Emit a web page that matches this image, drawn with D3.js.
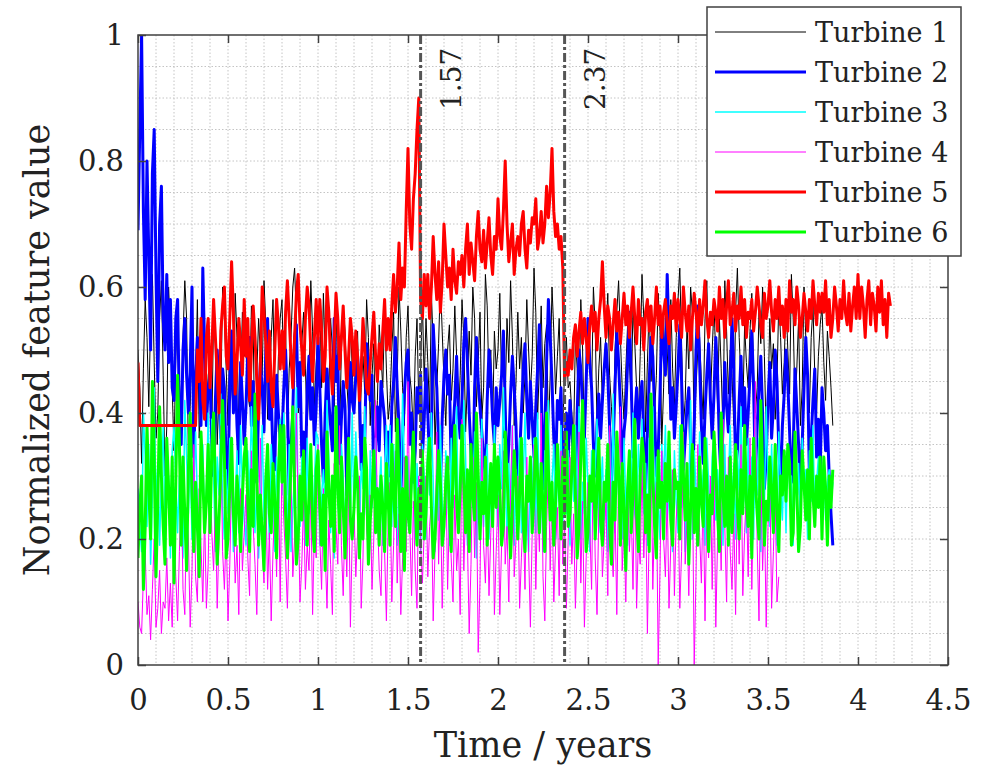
<!DOCTYPE html>
<html>
<head>
<meta charset="utf-8">
<script src="https://cdn.jsdelivr.net/npm/d3@7"></script>
<style>
    body { margin: 0; background: #fff; }
</style>
</head>
<body>
<div id="chart"></div>
<script>
'use strict';

const fontFamily = "'DejaVu Serif', serif";

// sampling interval of every series, in years
const sampleStep = 0.01;

const turbineNames = ["Turbine 1", "Turbine 2", "Turbine 3", "Turbine 4", "Turbine 5", "Turbine 6"];
const turbineColors = ["#000000", "#0000ff", "#00ffff", "#ff00ff", "#ff0000", "#00ff00"];

// one row = 0.2 years
const turbine1 = [
    0.50,0.44,0.32,0.47,0.58,0.52,0.41,0.55,0.62,0.48,0.36,0.40,0.55,0.61,0.46,0.30,0.38,0.60,0.53,0.44,
    0.34,0.49,0.57,0.45,0.39,0.52,0.61,0.55,0.33,0.41,0.52,0.47,0.45,0.58,0.36,0.42,0.58,0.50,0.40,0.46,
    0.48,0.37,0.56,0.51,0.35,0.44,0.42,0.60,0.55,0.47,0.38,0.53,0.44,0.40,0.59,0.52,0.37,0.45,0.56,0.49,
    0.50,0.43,0.41,0.57,0.53,0.34,0.46,0.55,0.49,0.46,0.61,0.54,0.39,0.44,0.52,0.58,0.43,0.37,0.49,0.55,
    0.58,0.45,0.54,0.36,0.47,0.52,0.60,0.63,0.55,0.40,0.42,0.51,0.56,0.47,0.38,0.45,0.61,0.53,0.41,0.48,
    0.52,0.58,0.44,0.59,0.49,0.35,0.43,0.55,0.50,0.41,0.57,0.46,0.37,0.50,0.57,0.53,0.45,0.40,0.55,0.47,
    0.40,0.48,0.53,0.36,0.44,0.49,0.43,0.58,0.52,0.38,0.46,0.51,0.35,0.42,0.54,0.49,0.44,0.57,0.47,0.39,
    0.42,0.50,0.56,0.37,0.45,0.60,0.53,0.44,0.38,0.52,0.57,0.46,0.43,0.36,0.49,0.55,0.41,0.47,0.58,0.45,
    0.55,0.48,0.40,0.59,0.51,0.35,0.44,0.51,0.61,0.53,0.45,0.38,0.50,0.54,0.42,0.47,0.57,0.49,0.39,0.46,
    0.58,0.52,0.37,0.45,0.53,0.46,0.60,0.55,0.41,0.48,0.56,0.39,0.44,0.62,0.57,0.44,0.50,0.38,0.53,0.47,
    0.50,0.59,0.45,0.36,0.42,0.55,0.48,0.61,0.52,0.38,0.45,0.56,0.47,0.52,0.40,0.46,0.58,0.50,0.43,0.49,
    0.63,0.56,0.39,0.48,0.57,0.44,0.51,0.54,0.37,0.46,0.60,0.53,0.43,0.49,0.55,0.41,0.38,0.47,0.52,0.44,
    0.45,0.40,0.36,0.52,0.47,0.40,0.58,0.50,0.35,0.44,0.55,0.49,0.43,0.60,0.54,0.38,0.47,0.52,0.41,0.46,
    0.53,0.59,0.46,0.41,0.36,0.50,0.56,0.61,0.52,0.44,0.39,0.47,0.54,0.48,0.42,0.57,0.51,0.44,0.39,0.49,
    0.62,0.55,0.37,0.48,0.57,0.45,0.51,0.40,0.46,0.59,0.53,0.35,0.44,0.55,0.50,0.43,0.58,0.47,0.41,0.52,
    0.58,0.63,0.51,0.38,0.42,0.54,0.47,0.60,0.56,0.36,0.44,0.50,0.52,0.45,0.39,0.55,0.61,0.48,0.42,0.50,
    0.57,0.49,0.41,0.55,0.47,0.37,0.61,0.53,0.43,0.50,0.46,0.38,0.56,0.63,0.52,0.45,0.40,0.54,0.48,0.44,
    0.53,0.59,0.46,0.40,0.44,0.56,0.51,0.60,0.49,0.36,0.42,0.55,0.47,0.51,0.39,0.45,0.58,0.52,0.43,0.48,
    0.58,0.50,0.43,0.62,0.55,0.41,0.47,0.55,0.38,0.44,0.60,0.52,0.45,0.40,0.52,0.57,0.46,0.40,0.49,0.54,
    0.57,0.48,0.42,0.53,0.49,0.44,0.38
];

const turbine2 = [
    0.69,0.85,1.00,0.72,0.58,0.80,0.65,0.50,0.78,0.85,0.62,0.45,0.70,0.76,0.55,0.50,0.62,0.48,0.58,0.44,
    0.42,0.55,0.58,0.40,0.35,0.50,0.55,0.46,0.40,0.47,0.60,0.33,0.45,0.52,0.48,0.38,0.63,0.50,0.38,0.44,
    0.46,0.35,0.30,0.42,0.50,0.44,0.36,0.47,0.44,0.31,0.28,0.45,0.53,0.40,0.47,0.38,0.32,0.48,0.42,0.35,
    0.41,0.50,0.52,0.38,0.45,0.34,0.29,0.41,0.48,0.44,0.37,0.50,0.55,0.39,0.43,0.33,0.31,0.46,0.40,0.36,
    0.36,0.44,0.50,0.42,0.27,0.35,0.40,0.52,0.54,0.41,0.48,0.33,0.37,0.30,0.44,0.49,0.39,0.44,0.35,0.41,
    0.52,0.44,0.35,0.29,0.40,0.47,0.42,0.38,0.34,0.55,0.45,0.49,0.32,0.39,0.45,0.41,0.27,0.36,0.48,0.42,
    0.40,0.46,0.49,0.44,0.31,0.38,0.36,0.51,0.47,0.42,0.46,0.28,0.35,0.41,0.34,0.45,0.42,0.39,0.31,0.37,
    0.30,0.41,0.45,0.52,0.44,0.38,0.27,0.36,0.43,0.48,0.50,0.35,0.40,0.29,0.34,0.44,0.40,0.46,0.33,0.39,
    0.47,0.40,0.32,0.36,0.54,0.48,0.44,0.35,0.28,0.39,0.46,0.50,0.43,0.46,0.31,0.37,0.42,0.49,0.40,0.36,
    0.42,0.51,0.55,0.48,0.40,0.34,0.27,0.44,0.52,0.45,0.41,0.37,0.33,0.30,0.42,0.50,0.46,0.39,0.35,0.44,
    0.38,0.42,0.46,0.53,0.41,0.29,0.35,0.43,0.49,0.44,0.38,0.26,0.33,0.40,0.47,0.51,0.42,0.36,0.45,0.39,
    0.33,0.41,0.47,0.54,0.45,0.28,0.37,0.48,0.58,0.52,0.45,0.36,0.31,0.42,0.39,0.44,0.29,0.35,0.40,0.33,
    0.42,0.37,0.33,0.28,0.40,0.50,0.47,0.41,0.36,0.45,0.55,0.48,0.44,0.35,0.30,0.38,0.43,0.36,0.42,0.47,
    0.51,0.46,0.38,0.29,0.35,0.44,0.53,0.48,0.41,0.31,0.37,0.40,0.48,0.56,0.45,0.33,0.39,0.44,0.36,0.42,
    0.45,0.36,0.28,0.37,0.45,0.52,0.49,0.40,0.30,0.34,0.43,0.55,0.50,0.46,0.62,0.52,0.39,0.44,0.36,0.41,
    0.47,0.54,0.45,0.31,0.36,0.41,0.44,0.35,0.27,0.38,0.50,0.57,0.48,0.38,0.32,0.40,0.46,0.51,0.42,0.36,
    0.43,0.52,0.46,0.35,0.29,0.38,0.48,0.41,0.37,0.44,0.55,0.47,0.31,0.34,0.42,0.49,0.38,0.44,0.35,0.40,
    0.46,0.53,0.44,0.30,0.38,0.44,0.49,0.40,0.28,0.33,0.42,0.48,0.36,0.41,0.50,0.45,0.34,0.29,0.38,0.43,
    0.50,0.45,0.37,0.29,0.34,0.47,0.41,0.35,0.27,0.35,0.44,0.52,0.46,0.30,0.36,0.42,0.47,0.33,0.39,0.31,
    0.44,0.40,0.34,0.38,0.30,0.24,0.19
];

const turbine3 = [
    0.28,0.22,0.18,0.40,0.33,0.22,0.35,0.16,0.27,0.44,0.25,0.32,0.19,0.30,0.38,0.21,0.26,0.30,0.17,0.34,
    0.38,0.29,0.21,0.30,0.24,0.17,0.42,0.33,0.24,0.34,0.20,0.28,0.37,0.26,0.19,0.31,0.35,0.22,0.27,0.40,
    0.22,0.39,0.30,0.18,0.33,0.27,0.43,0.25,0.20,0.31,0.24,0.36,0.29,0.18,0.26,0.34,0.21,0.38,0.28,0.23,
    0.19,0.34,0.26,0.41,0.30,0.21,0.29,0.17,0.25,0.38,0.23,0.32,0.27,0.20,0.35,0.29,0.18,0.33,0.24,0.39,
    0.27,0.40,0.32,0.20,0.35,0.18,0.25,0.30,0.44,0.25,0.22,0.33,0.28,0.19,0.36,0.24,0.31,0.21,0.29,0.37,
    0.36,0.19,0.27,0.31,0.24,0.42,0.33,0.21,0.28,0.17,0.39,0.26,0.22,0.35,0.30,0.18,0.27,0.34,0.23,0.40,
    0.23,0.37,0.29,0.20,0.32,0.28,0.41,0.24,0.18,0.34,0.25,0.30,0.36,0.21,0.27,0.33,0.19,0.29,0.38,0.25,
    0.38,0.22,0.35,0.27,0.19,0.29,0.26,0.43,0.31,0.21,0.33,0.24,0.28,0.37,0.20,0.32,0.26,0.18,0.35,0.30,
    0.20,0.36,0.27,0.40,0.29,0.18,0.31,0.23,0.38,0.26,0.21,0.34,0.29,0.19,0.36,0.25,0.32,0.41,0.22,0.28,
    0.29,0.42,0.33,0.19,0.26,0.33,0.25,0.37,0.17,0.30,0.26,0.39,0.22,0.31,0.35,0.20,0.28,0.24,0.38,0.27,
    0.22,0.35,0.28,0.44,0.31,0.20,0.32,0.24,0.38,0.19,0.31,0.27,0.36,0.21,0.29,0.40,0.25,0.18,0.33,0.28,
    0.36,0.21,0.40,0.25,0.30,0.18,0.34,0.27,0.42,0.23,0.29,0.35,0.20,0.31,0.26,0.38,0.22,0.30,0.24,0.34,
    0.19,0.33,0.26,0.38,0.22,0.41,0.20,0.29,0.24,0.36,0.28,0.18,0.34,0.25,0.31,0.39,0.21,0.27,0.33,0.23,
    0.31,0.18,0.37,0.23,0.43,0.21,0.34,0.27,0.30,0.20,0.36,0.26,0.19,0.32,0.28,0.40,0.24,0.22,0.35,0.29,
    0.39,0.24,0.32,0.19,0.36,0.28,0.41,0.22,0.33,0.26,0.20,0.35,0.29,0.38,0.23,0.27,0.31,0.18,0.34,0.26,
    0.21,0.38,0.25,0.35,0.18,0.30,0.27,0.42,0.20,0.34,0.28,0.23,0.37,0.25,0.31,0.19,0.36,0.29,0.22,0.33,
    0.37,0.23,0.31,0.26,0.40,0.19,0.35,0.22,0.29,0.38,0.25,0.32,0.20,0.34,0.27,0.41,0.24,0.30,0.21,0.36,
    0.24,0.33,0.20,0.39,0.27,0.36,0.18,0.31,0.25,0.41,0.29,0.22,0.35,0.26,0.32,0.19,0.37,0.28,0.23,0.34,
    0.21,0.35,0.28,0.30,0.19,0.37,0.24,0.32,0.22,0.36,0.27,0.31,0.20,0.34,0.26,0.38,0.23,0.29,0.33,0.25,
    0.27,0.33,0.23,0.29,0.31,0.25,0.29
];

const turbine4 = [
    0.10,0.06,0.05,0.14,0.18,0.08,0.11,0.04,0.12,0.20,0.06,0.09,0.15,0.05,0.10,0.09,0.17,0.07,0.13,0.06,
    0.22,0.14,0.07,0.18,0.30,0.12,0.08,0.25,0.20,0.06,0.15,0.35,0.14,0.10,0.28,0.19,0.10,0.24,0.09,0.16,
    0.32,0.21,0.15,0.26,0.09,0.20,0.38,0.18,0.12,0.22,0.07,0.16,0.30,0.24,0.13,0.19,0.08,0.28,0.15,0.21,
    0.27,0.17,0.11,0.34,0.22,0.16,0.08,0.24,0.36,0.19,0.13,0.29,0.12,0.21,0.07,0.18,0.26,0.14,0.31,0.10,
    0.33,0.23,0.17,0.09,0.21,0.31,0.14,0.20,0.40,0.25,0.10,0.16,0.26,0.12,0.19,0.15,0.28,0.08,0.22,0.17,
    0.35,0.20,0.12,0.28,0.18,0.09,0.23,0.16,0.08,0.32,0.22,0.16,0.38,0.19,0.11,0.24,0.14,0.29,0.06,0.20,
    0.25,0.14,0.21,0.30,0.09,0.17,0.36,0.22,0.17,0.27,0.12,0.20,0.42,0.24,0.15,0.11,0.26,0.18,0.07,0.23,
    0.29,0.10,0.19,0.34,0.13,0.24,0.08,0.17,0.33,0.18,0.45,0.22,0.11,0.26,0.15,0.09,0.30,0.19,0.13,0.21,
    0.30,0.14,0.22,0.26,0.07,0.18,0.37,0.16,0.28,0.09,0.21,0.32,0.12,0.24,0.17,0.10,0.27,0.15,0.20,0.08,
    0.39,0.15,0.25,0.20,0.05,0.16,0.33,0.17,0.29,0.02,0.13,0.36,0.19,0.13,0.25,0.11,0.21,0.30,0.08,0.18,
    0.27,0.08,0.19,0.34,0.16,0.22,0.10,0.28,0.38,0.14,0.20,0.30,0.09,0.17,0.24,0.12,0.33,0.18,0.06,0.21,
    0.35,0.12,0.26,0.18,0.40,0.14,0.07,0.22,0.31,0.15,0.28,0.10,0.19,0.25,0.11,0.34,0.16,0.23,0.09,0.20,
    0.33,0.16,0.24,0.09,0.19,0.37,0.13,0.26,0.06,0.17,0.29,0.22,0.12,0.34,0.17,0.08,0.24,0.30,0.14,0.20,
    0.26,0.11,0.38,0.19,0.14,0.25,0.08,0.30,0.41,0.15,0.22,0.10,0.28,0.18,0.25,0.12,0.33,0.09,0.20,0.16,
    0.32,0.17,0.27,0.05,0.21,0.36,0.12,0.24,0.29,0.00,0.15,0.34,0.20,0.14,0.27,0.09,0.19,0.31,0.11,0.23,
    0.28,0.09,0.18,0.37,0.16,0.23,0.11,0.26,0.31,0.00,0.14,0.35,0.21,0.13,0.28,0.07,0.24,0.17,0.30,0.12,
    0.30,0.06,0.20,0.26,0.15,0.39,0.22,0.10,0.33,0.18,0.12,0.24,0.08,0.29,0.16,0.35,0.11,0.21,0.27,0.14,
    0.36,0.12,0.28,0.45,0.19,0.07,0.32,0.15,0.25,0.06,0.22,0.30,0.09,0.18,0.27,0.10,0.14
];

const turbine5 = [
    0.48,0.38,0.38,0.38,0.38,0.38,0.38,0.38,0.38,0.38,0.38,0.38,0.38,0.38,0.38,0.38,0.38,0.38,0.38,0.38,
    0.38,0.38,0.38,0.38,0.38,0.38,0.38,0.38,0.38,0.38,0.38,0.38,0.38,0.50,0.45,0.55,0.42,0.39,0.52,0.55,
    0.44,0.50,0.58,0.52,0.46,0.40,0.53,0.57,0.60,0.49,0.47,0.55,0.64,0.56,0.43,0.48,0.55,0.51,0.46,0.58,
    0.49,0.55,0.42,0.50,0.57,0.52,0.45,0.39,0.48,0.60,0.56,0.51,0.45,0.53,0.44,0.41,0.50,0.58,0.54,0.47,
    0.53,0.47,0.56,0.61,0.55,0.49,0.44,0.52,0.59,0.62,0.54,0.50,0.46,0.55,0.60,0.57,0.50,0.45,0.52,0.58,
    0.51,0.58,0.53,0.45,0.49,0.60,0.56,0.48,0.43,0.51,0.59,0.55,0.47,0.52,0.57,0.50,0.44,0.49,0.55,0.52,
    0.46,0.53,0.49,0.42,0.47,0.55,0.50,0.44,0.43,0.48,0.52,0.56,0.49,0.45,0.51,0.47,0.53,0.58,0.50,0.55,
    0.50,0.57,0.62,0.56,0.60,0.67,0.58,0.63,0.60,0.72,0.82,0.70,0.66,0.74,0.78,0.85,0.90,0.58,0.55,0.62,
    0.57,0.62,0.55,0.60,0.68,0.62,0.58,0.64,0.56,0.61,0.70,0.65,0.60,0.63,0.58,0.66,0.61,0.59,0.64,0.62,
    0.65,0.60,0.66,0.70,0.62,0.67,0.64,0.61,0.68,0.72,0.66,0.64,0.69,0.63,0.67,0.71,0.65,0.62,0.68,0.66,
    0.74,0.68,0.66,0.72,0.80,0.70,0.64,0.67,0.70,0.62,0.66,0.68,0.65,0.70,0.72,0.66,0.63,0.69,0.67,0.71,
    0.70,0.74,0.66,0.68,0.72,0.67,0.70,0.76,0.71,0.75,0.82,0.72,0.68,0.70,0.66,0.68,0.63,0.45,0.48,0.46,
    0.50,0.47,0.52,0.54,0.49,0.53,0.56,0.51,0.55,0.52,0.48,0.54,0.57,0.53,0.56,0.50,0.55,0.58,0.64,0.57,
    0.52,0.57,0.55,0.50,0.54,0.58,0.53,0.56,0.51,0.55,0.59,0.54,0.57,0.52,0.56,0.60,0.55,0.51,0.58,0.54,
    0.55,0.50,0.56,0.58,0.53,0.57,0.51,0.55,0.60,0.54,0.57,0.52,0.56,0.58,0.54,0.51,0.57,0.55,0.59,0.53,
    0.58,0.55,0.52,0.60,0.56,0.53,0.57,0.50,0.55,0.59,0.56,0.52,0.58,0.54,0.57,0.61,0.55,0.52,0.56,0.54,
    0.58,0.56,0.53,0.60,0.55,0.58,0.52,0.57,0.61,0.54,0.56,0.59,0.53,0.57,0.55,0.60,0.54,0.58,0.52,0.56,
    0.55,0.58,0.53,0.56,0.60,0.57,0.54,0.52,0.59,0.55,0.57,0.61,0.56,0.53,0.58,0.55,0.60,0.54,0.57,0.52,
    0.58,0.53,0.61,0.56,0.58,0.54,0.60,0.57,0.52,0.55,0.59,0.56,0.53,0.58,0.55,0.61,0.57,0.54,0.59,0.56,
    0.59,0.56,0.61,0.54,0.58,0.52,0.55,0.60,0.57,0.53,0.58,0.55,0.61,0.56,0.54,0.59,0.53,0.57,0.60,0.55,
    0.62,0.55,0.60,0.57,0.52,0.58,0.61,0.54,0.59,0.57,0.53,0.60,0.56,0.61,0.54,0.58,0.52,0.59,0.57
];

const turbine6 = [
    0.17,0.25,0.30,0.12,0.22,0.38,0.28,0.20,0.45,0.33,0.14,0.26,0.41,0.30,0.22,0.16,0.36,0.28,0.19,0.33,
    0.13,0.29,0.46,0.35,0.19,0.33,0.24,0.15,0.31,0.40,0.27,0.18,0.29,0.22,0.14,0.37,0.30,0.21,0.26,0.35,
    0.21,0.34,0.40,0.28,0.16,0.23,0.31,0.42,0.33,0.17,0.20,0.28,0.36,0.24,0.19,0.30,0.25,0.18,0.27,0.33,
    0.36,0.26,0.18,0.31,0.22,0.43,0.30,0.19,0.27,0.21,0.15,0.29,0.35,0.24,0.21,0.32,0.26,0.17,0.30,0.38,
    0.29,0.38,0.24,0.17,0.24,0.32,0.41,0.28,0.16,0.20,0.30,0.23,0.34,0.26,0.19,0.27,0.35,0.22,0.18,0.31,
    0.34,0.25,0.19,0.27,0.15,0.37,0.28,0.22,0.30,0.18,0.41,0.29,0.21,0.33,0.25,0.17,0.28,0.36,0.23,0.20,
    0.25,0.33,0.29,0.17,0.24,0.20,0.36,0.31,0.16,0.23,0.27,0.34,0.21,0.28,0.19,0.30,0.25,0.18,0.32,0.26,
    0.19,0.35,0.27,0.22,0.39,0.30,0.18,0.28,0.15,0.33,0.24,0.21,0.30,0.37,0.26,0.19,0.28,0.23,0.34,0.20,
    0.24,0.32,0.36,0.25,0.17,0.20,0.27,0.34,0.29,0.19,0.22,0.29,0.33,0.24,0.18,0.31,0.38,0.26,0.21,0.28,
    0.38,0.29,0.21,0.31,0.18,0.35,0.27,0.23,0.40,0.30,0.20,0.29,0.24,0.33,0.19,0.26,0.32,0.22,0.35,0.25,
    0.33,0.28,0.19,0.22,0.37,0.30,0.24,0.17,0.25,0.34,0.29,0.20,0.27,0.36,0.23,0.18,0.30,0.26,0.33,0.21,
    0.27,0.36,0.30,0.21,0.32,0.25,0.18,0.40,0.31,0.23,0.29,0.19,0.26,0.35,0.28,0.20,0.33,0.24,0.37,0.22,
    0.24,0.31,0.38,0.27,0.17,0.22,0.33,0.42,0.30,0.18,0.21,0.30,0.26,0.34,0.20,0.28,0.36,0.23,0.19,0.29,
    0.26,0.35,0.22,0.16,0.29,0.23,0.37,0.31,0.19,0.32,0.25,0.15,0.28,0.34,0.21,0.27,0.39,0.24,0.18,0.30,
    0.36,0.33,0.21,0.27,0.18,0.43,0.30,0.22,0.17,0.34,0.25,0.29,0.20,0.32,0.26,0.37,0.23,0.19,0.31,0.28,
    0.29,0.20,0.38,0.30,0.23,0.32,0.16,0.25,0.35,0.21,0.28,0.19,0.33,0.26,0.22,0.36,0.29,0.18,0.27,0.24,
    0.37,0.31,0.24,0.18,0.40,0.27,0.22,0.30,0.19,0.33,0.21,0.28,0.35,0.25,0.20,0.31,0.24,0.38,0.26,0.22,
    0.30,0.17,0.36,0.29,0.24,0.20,0.42,0.31,0.19,0.26,0.23,0.33,0.28,0.21,0.35,0.25,0.18,0.30,0.27,0.34,
    0.26,0.35,0.32,0.19,0.21,0.37,0.28,0.18,0.22,0.34,0.29,0.23,0.31,0.20,0.36,0.27,0.22,0.30,0.25,0.33,
    0.20,0.33,0.28,0.19,0.30,0.25,0.31
];

const turbineSeries = [turbine1, turbine2, turbine3, turbine4, turbine5, turbine6];
const lineWidths = [1, 3, 1.5, 1, 3, 3];
// red is drawn last so it sits above the green band
const drawOrder = [0, 1, 2, 3, 5, 4];

const eventTimes = [1.57, 2.37];
const xTickValues = [0, 0.5, 1, 1.5, 2, 2.5, 3, 3.5, 4, 4.5];
const yTickValues = [0, 0.2, 0.4, 0.6, 0.8, 1];

let margin = { top: 35, right: 46, bottom: 103, left: 138 },
    width = 994 - margin.left - margin.right,
    height = 768 - margin.top - margin.bottom;

let x = d3.scaleLinear().domain([0, 4.5]).range([0, width]);
let y = d3.scaleLinear().domain([0, 1]).range([height, 0]);

let root = d3.select("#chart").append("svg")
    .attr("width", 994)
    .attr("height", 768)
    .attr("font-family", fontFamily);

let svg = root.append("g")
    .attr("transform", "translate(" + margin.left + "," + margin.top + ")");

svg.append("defs").append("clipPath").attr("id", "plotClip")
    .append("rect").attr("width", width).attr("height", height);

// dotted minor grid
let grid = svg.append("g").attr("class", "grid");
grid.selectAll(".gx")
    .data(d3.range(1, 45).map(i => i / 10))
    .enter().append("line")
    .attr("x1", d => x(d)).attr("x2", d => x(d))
    .attr("y1", 0).attr("y2", height)
    .attr("stroke", "#c4c4c4").attr("stroke-width", 1).attr("stroke-dasharray", "1.5,2");
grid.selectAll(".gy")
    .data(d3.range(1, 20).map(i => i / 20))
    .enter().append("line")
    .attr("x1", 0).attr("x2", width)
    .attr("y1", d => y(d)).attr("y2", d => y(d))
    .attr("stroke", "#c4c4c4").attr("stroke-width", 1).attr("stroke-dasharray", "1.5,2");

// turbine series
let line = d3.line()
    .x((d, i) => x(i * sampleStep))
    .y(d => y(d));

let plot = svg.append("g").attr("clip-path", "url(#plotClip)");
drawOrder.forEach(k => {
    plot.append("path")
        .datum(turbineSeries[k])
        .attr("fill", "none")
        .attr("stroke", turbineColors[k])
        .attr("stroke-width", lineWidths[k])
        .attr("stroke-linejoin", "round")
        .attr("d", line);
});

// event markers
eventTimes.forEach(t => {
    svg.append("line")
        .attr("x1", x(t)).attr("x2", x(t))
        .attr("y1", 0).attr("y2", height)
        .attr("stroke", "#555").attr("stroke-width", 3)
        .attr("stroke-dasharray", "9,3,3,3");
    svg.append("text")
        .attr("transform", "translate(" + (x(t) + 40) + ",75) rotate(-90)")
        .style("font-family", fontFamily)
        .style("font-size", "28px")
        .attr("fill", "#222")
        .text(t.toFixed(2));
});

// axes box with inward ticks on all four sides
let xAxis = d3.axisBottom(x).tickValues(xTickValues).tickSizeInner(-8).tickSizeOuter(0).tickPadding(24).tickFormat(d => String(d));
let yAxis = d3.axisLeft(y).tickValues(yTickValues).tickSizeInner(-8).tickSizeOuter(0).tickPadding(14).tickFormat(d => String(d));

let gx = svg.append("g").attr("transform", "translate(0," + height + ")").call(xAxis);
let gy = svg.append("g").call(yAxis);
svg.append("g").call(d3.axisTop(x).tickValues(xTickValues).tickSizeInner(-8).tickSizeOuter(0).tickFormat(""));
svg.append("g").attr("transform", "translate(" + width + ",0)")
    .call(d3.axisRight(y).tickValues(yTickValues).tickSizeInner(-8).tickSizeOuter(0).tickFormat(""));

svg.selectAll(".domain").remove();
svg.selectAll(".tick line").attr("stroke", "#404040").attr("stroke-width", 1.5);
gx.selectAll(".tick text").style("font-family", fontFamily).style("font-size", "29px").attr("fill", "#222");
gy.selectAll(".tick text").style("font-family", fontFamily).style("font-size", "29px").attr("fill", "#222");

svg.append("rect")
    .attr("width", width).attr("height", height)
    .attr("fill", "none").attr("stroke", "#404040").attr("stroke-width", 1.5);

// axis titles
svg.append("text")
    .attr("x", width / 2)
    .attr("y", height + 92)
    .attr("text-anchor", "middle")
    .style("font-family", fontFamily)
    .style("font-size", "35px")
    .attr("fill", "#222")
    .text("Time / years");

svg.append("text")
    .attr("transform", "translate(" + (-89) + "," + (height / 2) + ") rotate(-90)")
    .attr("text-anchor", "middle")
    .style("font-family", fontFamily)
    .style("font-size", "35px")
    .attr("fill", "#222")
    .text("Normalized feature value");

// legend
let legend = root.append("g").attr("transform", "translate(707,7)");
legend.append("rect")
    .attr("width", 254).attr("height", 249)
    .attr("fill", "#fff").attr("stroke", "#404040").attr("stroke-width", 1.5);

turbineNames.forEach((name, i) => {
    let ly = 25 + i * 40;
    legend.append("line")
        .attr("x1", 8).attr("x2", 99)
        .attr("y1", ly).attr("y2", ly)
        .attr("stroke", turbineColors[i])
        .attr("stroke-width", lineWidths[i]);
    legend.append("text")
        .attr("x", 108)
        .attr("y", ly + 10)
        .style("font-family", fontFamily)
        .style("font-size", "27px")
        .attr("fill", "#222")
        .text(name);
});
</script>
</body>
</html>
